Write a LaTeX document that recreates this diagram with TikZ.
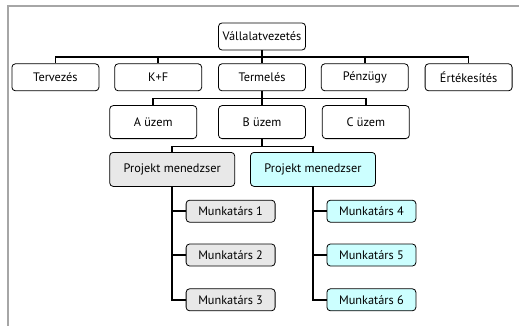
\documentclass[tikz,border=0pt]{standalone}
\usepackage{fontspec}
\setmainfont{PT Sans}
\usetikzlibrary{positioning}

\definecolor{grayfill}{RGB}{232,232,232}
\definecolor{cyanfill}{RGB}{204,255,255}

\begin{document}
\begin{tikzpicture}[x=1pt, y=-1pt,
	onode/.style={draw=black, line width=0.8pt, rounded corners=3.5pt, fill=white, inner xsep=0pt, inner ysep=1pt,
		font=\fontsize{12.3}{14}\selectfont},
	bigbox/.style={onode, minimum width=87pt, minimum height=27pt},
	ubox/.style={onode, minimum width=87pt, minimum height=33pt},
	pmbox/.style={onode, minimum width=125pt, minimum height=34pt},
	mbox/.style={onode, minimum width=89pt, minimum height=22pt},
	link/.style={line width=1.5pt}]
	\useasboundingbox (0,0) rectangle (519,326);
	\draw[black!35, line width=1.2pt] (8,326) -- (8,6) -- (519,6);

	\node[bigbox] (vezetes) at (262,36.5) {Vállalatvezetés};
	\node[bigbox] (termeles) [below = 13pt of vezetes] {Termelés};
	\node[bigbox] (kf) [left = 16pt of termeles] {K+F};
	\node[bigbox] (tervezes) [left = 15pt of kf] {Tervezés};
	\node[bigbox] (penzugy) [right = 15pt of termeles] {Pénzügy};
	\node[bigbox] (ertekesites) [right = 16pt of penzugy] {Értékesítés};

	\node[ubox] (buzem) [below = 14pt of termeles] {B üzem};
	\node[ubox] (auzem) [left = 21pt of buzem] {A üzem};
	\node[ubox] (cuzem) [right = 16pt of buzem] {C üzem};

	\node[pmbox, fill=grayfill] (pmgray) [below right = 13pt and 0pt of auzem.south west] {Projekt menedzser};
	\node[pmbox, fill=cyanfill] (pmcyan) [right = 15pt of pmgray] {Projekt menedzser};

	\node[mbox, fill=grayfill] (m1) [below right = 13pt and 13.5pt of pmgray.south] {Munkatárs 1};
	\node[mbox, fill=grayfill] (m2) [below = 21pt of m1] {Munkatárs 2};
	\node[mbox, fill=grayfill] (m3) [below = 22pt of m2] {Munkatárs 3};
	\node[mbox, fill=cyanfill] (m4) [below right = 13pt and 13.5pt of pmcyan.south] {Munkatárs 4};
	\node[mbox, fill=cyanfill] (m5) [below = 21pt of m4] {Munkatárs 5};
	\node[mbox, fill=cyanfill] (m6) [below = 22pt of m5] {Munkatárs 6};

	% connectors
	\foreach \c in {tervezes,kf,termeles,penzugy,ertekesites}
		\draw[link] (vezetes.south) -- ++(0,6.5) -| (\c.north);
	\foreach \c in {auzem,buzem,cuzem}
		\draw[link] (termeles.south) -- ++(0,7.5) -| (\c.north);
	\foreach \c in {pmgray,pmcyan}
		\draw[link] (buzem.south) -- ++(0,7.5) -| (\c.north);
	\foreach \c in {m1,m2,m3}
		\draw[link] (pmgray.south) |- (\c.west);
	\foreach \c in {m4,m5,m6}
		\draw[link] (pmcyan.south) |- (\c.west);
\end{tikzpicture}
\end{document}
